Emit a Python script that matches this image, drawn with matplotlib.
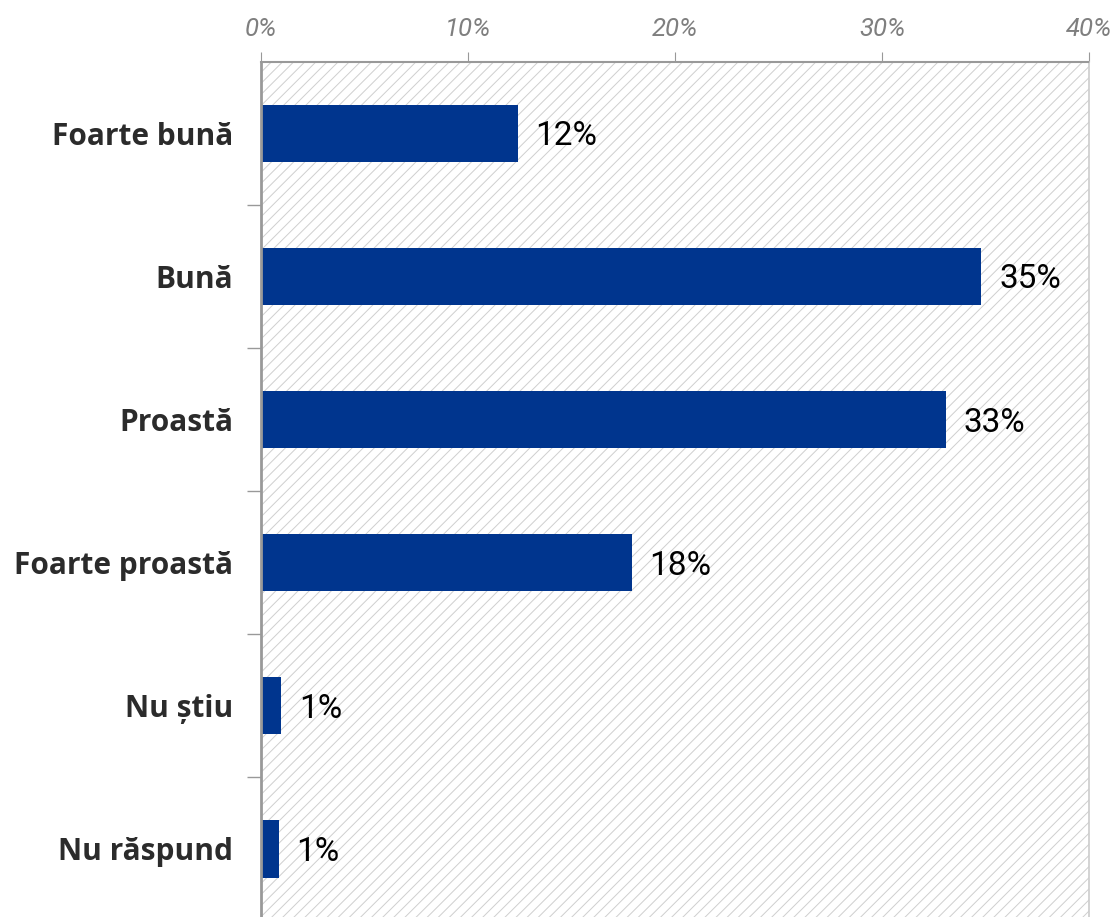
import matplotlib.pyplot as plt
from matplotlib.patches import Rectangle
from matplotlib.ticker import FixedLocator

categories = ['Foarte bună', 'Bună', 'Proastă', 'Foarte proastă', 'Nu știu', 'Nu răspund']
values = [12.4, 34.8, 33.1, 17.9, 0.97, 0.87]
labels = ['12%', '35%', '33%', '18%', '1%', '1%']
xticks = [0, 10, 20, 30, 40]

plt.rcParams['hatch.linewidth'] = 0.7
plt.rcParams['hatch.color'] = '#cfcfcf'

fig = plt.figure(figsize=(11.17, 9.17), dpi=100, facecolor='white')
ax = fig.add_axes([0.2337, -0.0038, 0.975 - 0.2337, 0.9362])

# hatched plot area
ax.add_patch(Rectangle((0, 0), 1, 1, transform=ax.transAxes, facecolor='white',
                       edgecolor='#cfcfcf', hatch='///', linewidth=0, zorder=0))

y = list(range(len(categories)))
ax.barh(y, values, height=0.4, color='#00358e', zorder=2)
for yi, v, lab in zip(y, values, labels):
    ax.text(v + 0.85, yi + 0.02, lab, va='center', ha='left', fontsize=24, family='Roboto', color='black', zorder=3)

ax.set_xlim(0, 40)
ax.set_ylim(len(categories) - 0.5, -0.5)

ax.xaxis.tick_top()
ax.set_xticks(xticks)
ax.set_xticklabels(['{}%'.format(t) for t in xticks], fontsize=18.5, style='italic', color='#7f7f7f',
                   family='Roboto')
ax.tick_params(axis='x', length=7, color='#999999', pad=8, direction='out')
for t in ax.xaxis.get_major_ticks():
    t.tick2line.set_linestyle((0, (1, 1)))

ax.set_yticks(y)
ax.set_yticklabels(categories, fontsize=21.5, fontweight='bold', color='#2b2b2b', family='Open Sans')
ax.tick_params(axis='y', which='major', length=0, pad=20)
ax.yaxis.set_minor_locator(FixedLocator([i + 0.5 for i in range(len(categories) - 1)]))
ax.tick_params(axis='y', which='minor', length=10, color='#999999', width=1)

ax.spines['left'].set_color('#999999')
ax.spines['left'].set_linewidth(2)
ax.spines['top'].set_color('#999999')
ax.spines['top'].set_linestyle((0, (1, 1)))
ax.spines['top'].set_linewidth(1.5)
ax.spines['right'].set_color('#cccccc')
ax.spines['right'].set_linewidth(1.2)
ax.spines['bottom'].set_visible(False)

fig.savefig('out.png', dpi=100, facecolor='white')
